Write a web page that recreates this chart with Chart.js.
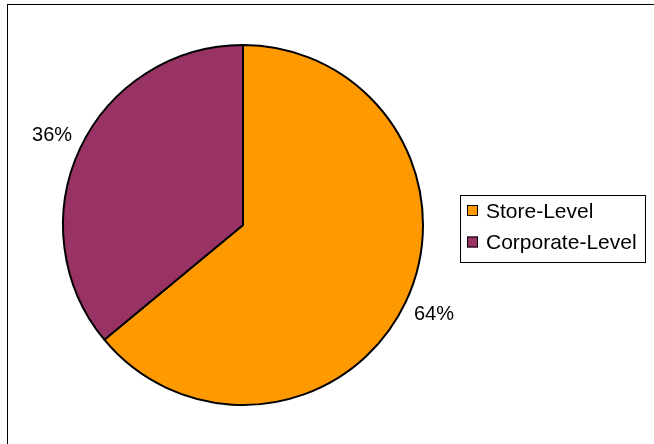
<!DOCTYPE html>
<html>
<head>
<meta charset="utf-8">
<script src="https://cdn.jsdelivr.net/npm/chart.js@4/dist/chart.umd.min.js"></script>
<style>
  html, body { margin: 0; padding: 0; background: #fff; }
  #wrap { width: 654px; height: 444px; }
</style>
</head>
<body>
<div id="wrap"><canvas id="pie" width="654" height="444"></canvas></div>
<script>
// categories and shares (percent)
const categories = ['Store-Level', 'Corporate-Level'];
const shares = [64, 36];
const sliceColors = ['#FF9900', '#993366'];

const FONT = '20px "Liberation Sans", Arial, sans-serif';
const LEGEND_FONT = '21px "Liberation Sans", Arial, sans-serif';

// frame line around the plot (runs off right/bottom edge)
const framePlugin = {
  id: 'frame',
  beforeDraw(chart) {
    const ctx = chart.ctx;
    ctx.save();
    ctx.strokeStyle = '#000';
    ctx.lineWidth = 1;
    ctx.strokeRect(7.5, 4.5, 800, 600);
    ctx.restore();
  }
};

// percent labels outside each slice
const outsideLabels = {
  id: 'outsideLabels',
  afterDatasetsDraw(chart) {
    const ctx = chart.ctx;
    const meta = chart.getDatasetMeta(0);
    const values = chart.data.datasets[0].data;
    const total = values.reduce((a, b) => a + b, 0);
    ctx.save();
    ctx.font = FONT;
    ctx.fillStyle = '#000';
    ctx.textAlign = 'center';
    ctx.textBaseline = 'middle';
    meta.data.forEach((arc, i) => {
      const mid = (arc.startAngle + arc.endAngle) / 2;
      const d = arc.outerRadius + 31;
      const x = arc.x + Math.cos(mid) * d;
      const y = arc.y + Math.sin(mid) * d;
      ctx.fillText(Math.round(values[i] / total * 100) + '%', x, y);
    });
    ctx.restore();
  }
};

// boxed legend on the right
const boxLegend = {
  id: 'boxLegend',
  afterDraw(chart) {
    const ctx = chart.ctx;
    const labels = chart.data.labels;
    const colors = chart.data.datasets[0].backgroundColor;
    ctx.save();
    ctx.strokeStyle = '#000';
    ctx.lineWidth = 1;
    ctx.strokeRect(460.5, 195.5, 185, 67);
    ctx.font = LEGEND_FONT;
    ctx.textBaseline = 'middle';
    labels.forEach((lab, i) => {
      const y = 211 + i * 31.5;
      ctx.fillStyle = colors[i];
      ctx.fillRect(467, y - 6, 11, 11);
      ctx.strokeRect(467.5, y - 5.5, 10, 10);
      ctx.fillStyle = '#000';
      ctx.fillText(lab, 486, y + 1);
    });
    ctx.restore();
  }
};

new Chart(document.getElementById('pie'), {
  type: 'pie',
  data: {
    labels: categories,
    datasets: [{
      data: shares,
      backgroundColor: sliceColors,
      borderColor: '#000',
      borderWidth: 2
    }]
  },
  options: {
    responsive: false,
    animation: false,
    layout: { padding: { left: 62, right: 230, top: 44, bottom: 38 } },
    plugins: {
      legend: { display: false },
      tooltip: { enabled: false }
    }
  },
  plugins: [framePlugin, outsideLabels, boxLegend]
});
</script>
</body>
</html>
